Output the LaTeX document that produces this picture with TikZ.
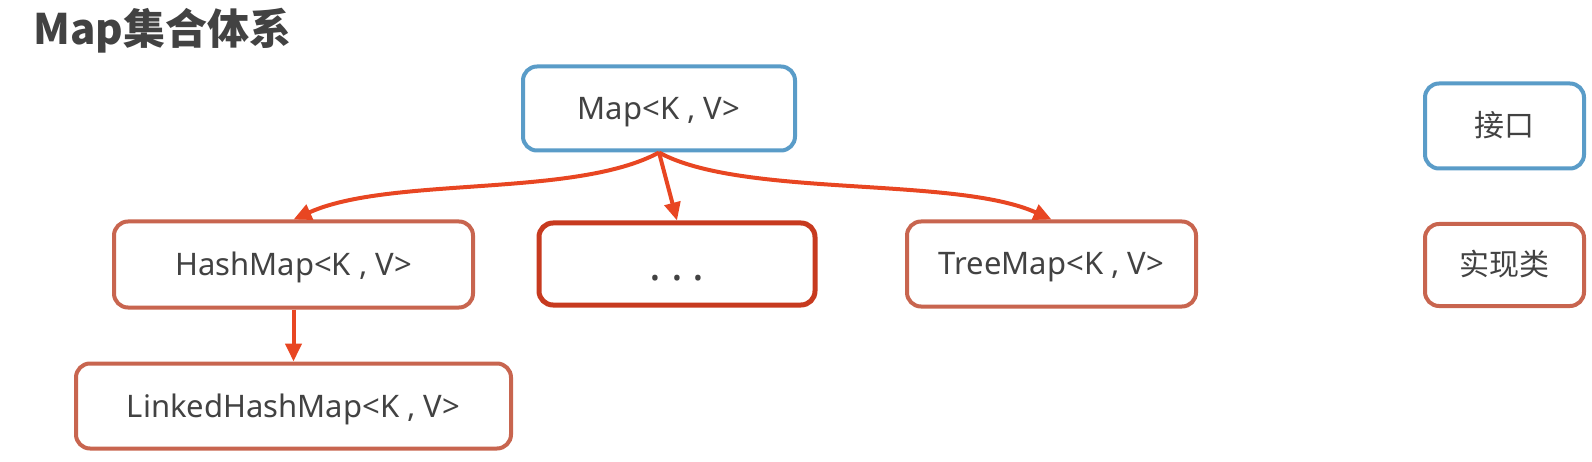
\documentclass[tikz,border=0pt]{standalone}
\usepackage{fontspec}
\setmainfont{Noto Sans}
\newfontfamily\cjk{Noto Sans CJK SC}
\usetikzlibrary{arrows.meta}
\definecolor{txt}{HTML}{424242}
\definecolor{ifblue}{HTML}{5A9CC8}
\definecolor{implred}{HTML}{C8654F}
\definecolor{dotsred}{HTML}{C73A1F}
\definecolor{arr}{HTML}{E84622}
\tikzset{
  box/.style={rounded corners=14pt, line width=4pt, fill=white, inner sep=0pt,
    text=txt, font=\fontsize{31}{37}\selectfont, text height=22pt, text depth=0pt, align=center},
  iface/.style={box, draw=ifblue},
  impl/.style={box, draw=implred},
  dotsbox/.style={box, draw=dotsred, line width=5pt},
  conn/.style={draw=arr, line width=4pt, -{Triangle[length=18pt,width=16pt]}},
}
\begin{document}
\begin{tikzpicture}[x=1pt,y=-1pt]
\useasboundingbox (0,0) rectangle (1592,462);
\node[anchor=base west, text=txt, font=\fontsize{42}{48}\selectfont\cjk\bfseries, inner sep=0pt] (title) at (33,45) {Map集合体系};
\node[iface, minimum width=272pt, minimum height=84pt] (map) at (659,108.5) {Map<K , V>};
\node[impl, minimum width=359pt, minimum height=86pt] (hash) at (293.5,264.5) {HashMap<K , V>};
\node[dotsbox, minimum width=276pt, minimum height=82pt, font=\fontsize{44}{50}\selectfont\bfseries, text height=32pt] (dots) at (677,264) {.\hspace{10pt}.\hspace{10pt}.};
\node[impl, minimum width=289pt, minimum height=85pt] (tree) at (1051.5,264) {TreeMap<K , V>};
\node[impl, minimum width=435pt, minimum height=85pt] (linked) at (293.5,406) {LinkedHashMap<K , V>};
\node[iface, minimum width=159pt, minimum height=85pt, font=\fontsize{30}{36}\selectfont\cjk] (legif) at (1504.5,126) {接口};
\node[impl, minimum width=159pt, minimum height=82pt, font=\fontsize{30}{36}\selectfont\cjk] (legimpl) at (1504.5,265) {实现类};
\draw[conn] (map.south) .. controls (575,198) and (390,176) .. (hash.north);
\draw[conn] (map.south) -- (dots.north);
\draw[conn] (map.south) .. controls (742,198) and (955,176) .. (tree.north);
\draw[conn] (hash.south) -- (linked.north);
\end{tikzpicture}
\end{document}
